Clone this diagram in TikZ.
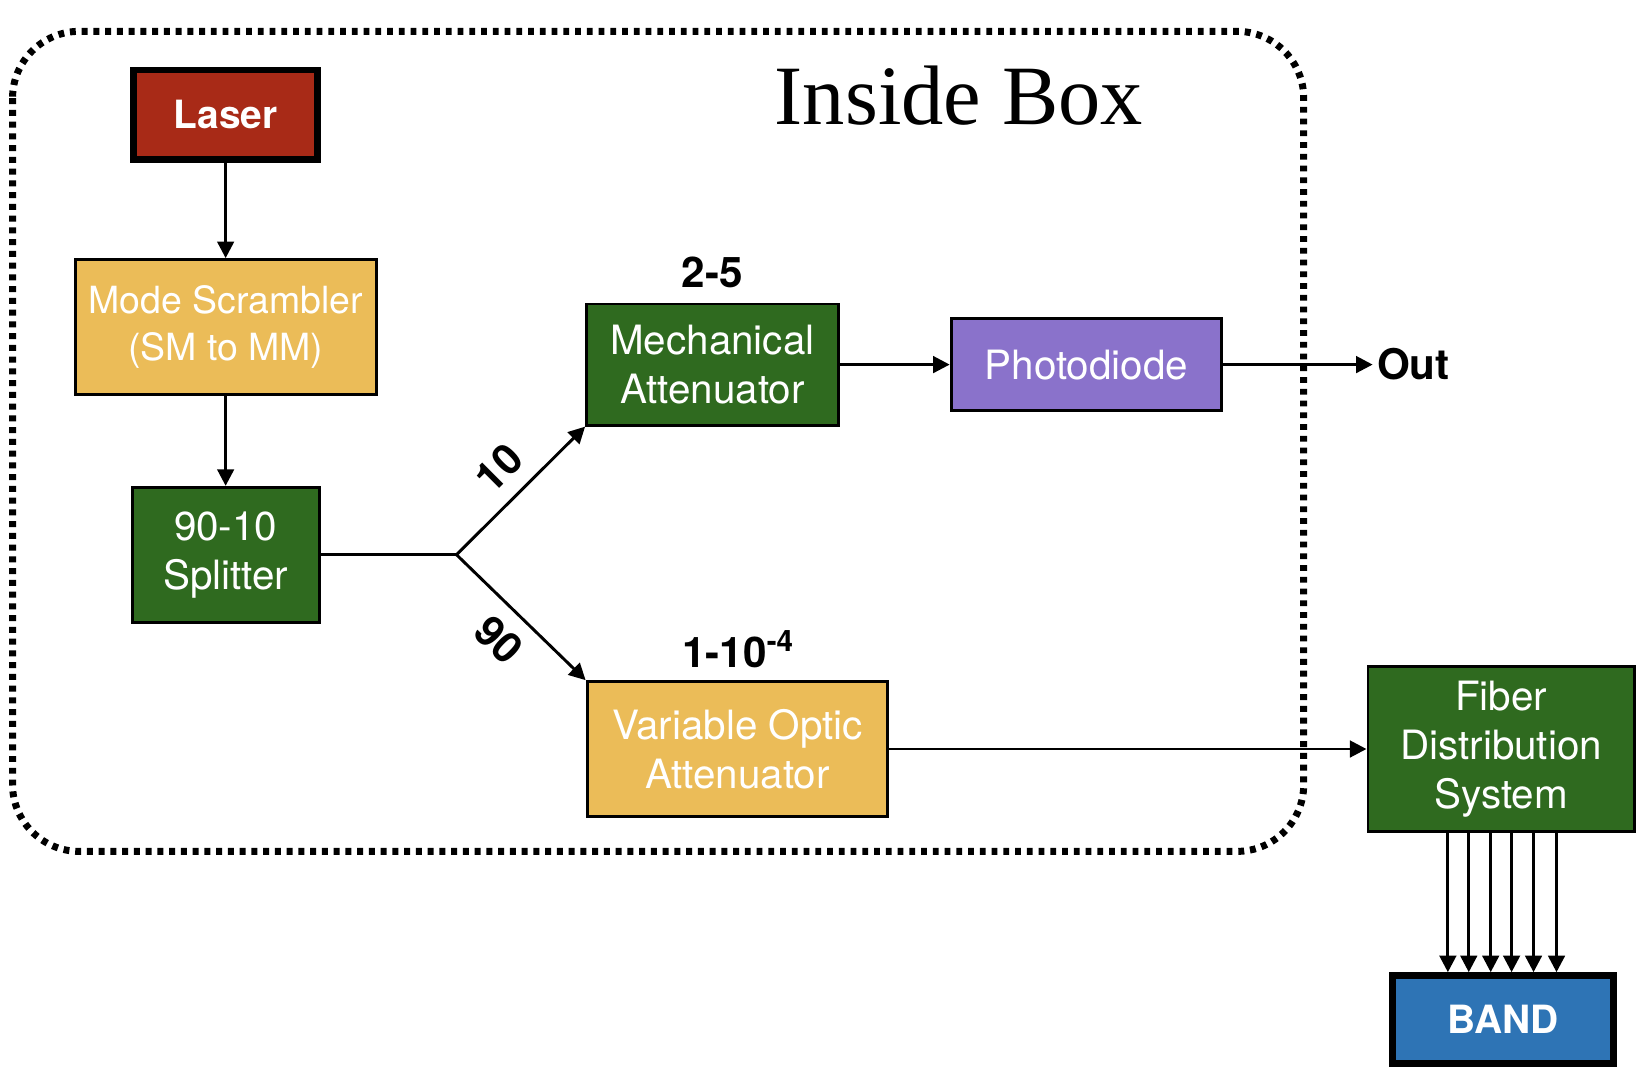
\documentclass[tikz,border=0pt]{standalone}
\usepackage{fontspec}
\setmainfont{TeX Gyre Heros}
\newfontfamily\serifbox{Liberation Serif}
\usetikzlibrary{arrows.meta}

\definecolor{laserred}{HTML}{A82A17}
\definecolor{scramyellow}{HTML}{EBBC58}
\definecolor{partgreen}{HTML}{2F6A1F}
\definecolor{diodepurple}{HTML}{8A72CB}
\definecolor{bandblue}{HTML}{2E74B5}

\begin{document}
\begin{tikzpicture}[x=0.1mm,y=-0.1mm]

        \tikzset{part/.style={draw=black,line width=0.8pt,text=white,align=center,
                     inner sep=0pt,font=\fontsize{11}{13.3}\selectfont},
                 heavy/.style={part,line width=1.9pt,font=\fontsize{10.6}{13}\selectfont\bfseries},
                 tag/.style={font=\fontsize{11.5}{13}\selectfont\bfseries,inner sep=1pt},
                 link/.style={line width=0.8pt,-{Triangle[length=4.5pt,width=4.5pt]}}}

        \useasboundingbox (0,0) rectangle (1568,1041);

        % Draw the box
        \draw[line width=1.9pt,dash pattern=on 1.6pt off 1.6pt,rounded corners=6.4mm]
            (12,30) rectangle (1248,815);
        \node (title) at (918,92) {\serifbox\fontsize{23}{26}\selectfont Inside Box};

        % Draw parts
        \node (laser) at (216,110) [heavy,fill=laserred,minimum width=17.6mm,minimum height=8.6mm] {Laser};
        \node (scram) at (216,313) [part,fill=scramyellow,minimum width=28.8mm,minimum height=12.9mm,
                                    font=\fontsize{10.2}{12.6}\selectfont] {Mode Scrambler\\(SM to MM)};
        \node (split) at (216,531) [part,fill=partgreen,minimum width=17.9mm,minimum height=12.9mm] {90-10\\Splitter};
        \node (mech) at (682,349) [part,fill=partgreen,minimum width=24.1mm,minimum height=11.6mm] {Mechanical\\Attenuator};
        \node (diode) at (1040,349) [part,fill=diodepurple,minimum width=25.9mm,minimum height=8.8mm] {Photodiode};
        \node (voa) at (706,717) [part,fill=scramyellow,minimum width=28.8mm,minimum height=12.9mm] {Variable Optic\\Attenuator};
        \node (fiber) at (1437,717) [part,fill=partgreen,minimum width=25.5mm,minimum height=15.8mm] {Fiber\\Distribution\\System};
        \node (band) at (1439,976) [heavy,fill=bandblue,minimum width=21.2mm,minimum height=8.4mm] {BAND};

        \node (mechtag) at (682,261) [tag] {2-5};
        \node (voatag) at (707,621) [tag] {1-10\textsuperscript{-4}};
        \node (out) at (1353,349) [tag] {Out};

        % Draw connectors
        \coordinate (junc) at (437,531);
        \draw[link] (laser) -- (scram);
        \draw[link] (scram) -- (split);
        \draw[line width=0.8pt] (split.east) -- (junc);
        \draw[link] (junc) -- node[sloped,above=3pt,tag] {10} (mech.south west);
        \draw[link] (junc) -- node[sloped,below=3pt,tag] {90} (voa.north west);
        \draw[link] (mech) -- (diode);
        \draw[link] (diode) -- (out.west);
        \draw[link] (voa.east) -- (fiber.west);
        \foreach \x in {1386,1406,1427,1447,1468,1490} {
            \draw[link] (fiber.south -| \x,0) -- (band.north -| \x,0);
        }

    \end{tikzpicture}
\end{document}
